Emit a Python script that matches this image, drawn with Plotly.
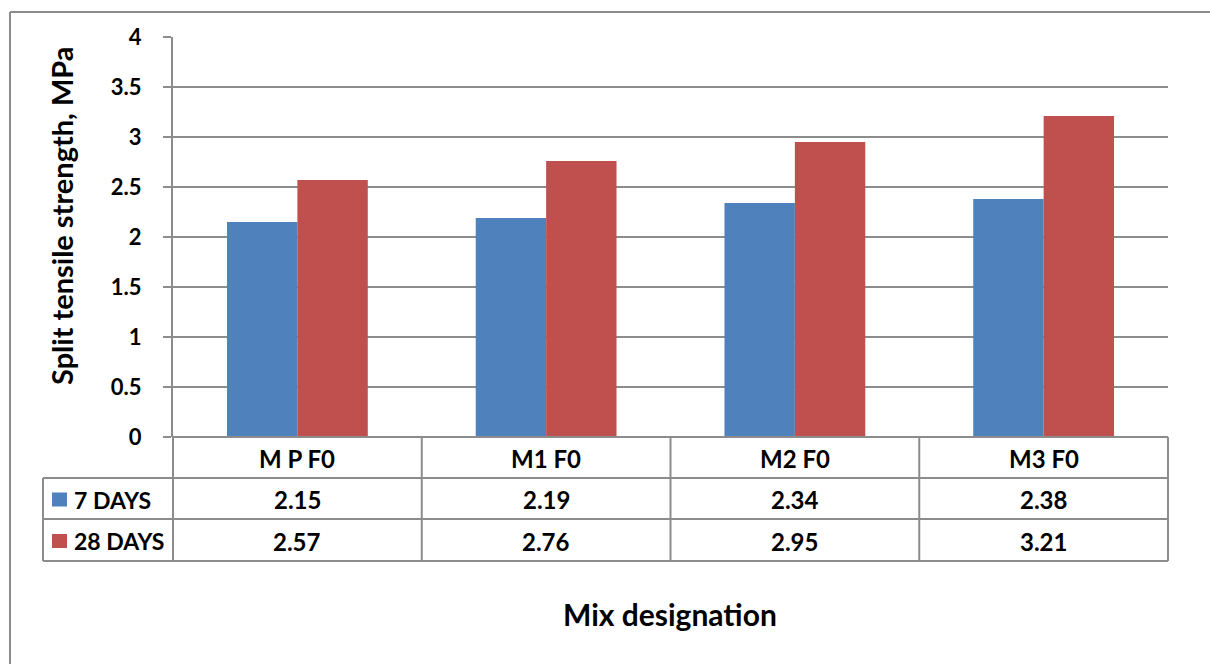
import plotly.graph_objects as go

categories = ["M P F0", "M1 F0", "M2 F0", "M3 F0"]
series_names = ["7 DAYS", "28 DAYS"]
days7 = [2.15, 2.19, 2.34, 2.38]
days28 = [2.57, 2.76, 2.95, 3.21]
colors = ["#4F81BD", "#C0504D"]
y_ticks = [0, 0.5, 1, 1.5, 2, 2.5, 3, 3.5, 4]
y_title = "Split tensile strength, MPa"
x_title = "Mix designation"

W, H = 1210, 664
FONT = "Lato"
GRID = "#8C8C8C"


def px(x):
    return x / W


def py(y):
    return 1 - y / H


x0, x1 = 173, 1168
ytop, ybot = 37, 437
row_y = [437, 478, 519, 561]
tbl_left = 43

fig = go.Figure()
for name, vals, c in zip(series_names, [days7, days28], colors):
    fig.add_trace(go.Bar(x=categories, y=vals, name=name, marker=dict(color=c, line=dict(width=0)),
                         showlegend=False, hoverinfo="skip"))

fig.update_layout(
    width=W, height=H, margin=dict(l=0, r=0, t=0, b=0, autoexpand=False),
    paper_bgcolor="white", plot_bgcolor="white",
    barmode="group", bargap=0.434, bargroupgap=0,
    font=dict(family=FONT, color="black"),
    xaxis=dict(domain=[px(x0), px(x1)], showticklabels=False, showline=False, showgrid=False,
               ticks="", zeroline=False, range=[-0.5, 3.5], automargin=False),
    yaxis=dict(domain=[py(ybot), py(ytop)], range=[0, 4], tickvals=y_ticks,
               ticktext=[f"<b>{v:g}</b>" for v in y_ticks], automargin=False,
               showgrid=True, gridcolor=GRID, gridwidth=1.5, zeroline=False,
               showline=True, linecolor=GRID, linewidth=2,
               ticks="outside", ticklen=8, tickcolor=GRID, tickwidth=1.5,
               tickfont=dict(size=22, family=FONT, color="black"), ticklabelstandoff=17),
)

shapes = []
line = dict(color=GRID, width=2)
# outer chart frame
shapes.append(dict(type="line", xref="paper", yref="paper", x0=px(10), x1=px(10), y0=py(12), y1=0, line=line))
shapes.append(dict(type="line", xref="paper", yref="paper", x0=px(10), x1=1, y0=py(12), y1=py(12), line=line))
# table horizontal lines
shapes.append(dict(type="line", xref="paper", yref="paper", x0=px(x0), x1=px(x1), y0=py(row_y[0]), y1=py(row_y[0]), line=line))
for yy in row_y[1:]:
    shapes.append(dict(type="line", xref="paper", yref="paper", x0=px(tbl_left), x1=px(x1), y0=py(yy), y1=py(yy), line=line))
# table vertical lines
ncat = len(categories)
for i in range(ncat + 1):
    xx = x0 + (x1 - x0) * i / ncat
    shapes.append(dict(type="line", xref="paper", yref="paper", x0=px(xx), x1=px(xx), y0=py(row_y[0]), y1=py(row_y[-1]), line=line))
shapes.append(dict(type="line", xref="paper", yref="paper", x0=px(tbl_left), x1=px(tbl_left), y0=py(row_y[1]), y1=py(row_y[-1]), line=line))

annotations = []
cell_font = dict(size=24, family=FONT, color="black")
cw = (x1 - x0) / ncat
for i, cat in enumerate(categories):
    cx = x0 + cw * (i + 0.5)
    annotations.append(dict(x=px(cx), y=py((row_y[0] + row_y[1]) / 2 + 1), xref="paper", yref="paper",
                            text=f"<b>{cat}</b>", showarrow=False, font=cell_font,
                            xanchor="center", yanchor="middle"))
    for r, vals in enumerate([days7, days28]):
        annotations.append(dict(x=px(cx), y=py((row_y[r + 1] + row_y[r + 2]) / 2 + 1), xref="paper", yref="paper",
                                text=f"<b>{vals[i]:.2f}</b>", showarrow=False, font=cell_font,
                                xanchor="center", yanchor="middle"))
for r, (name, c) in enumerate(zip(series_names, colors)):
    cy = (row_y[r + 1] + row_y[r + 2]) / 2 + 1
    shapes.append(dict(type="rect", xref="paper", yref="paper", x0=px(52), x1=px(67), y0=py(cy - 7), y1=py(cy + 7),
                       fillcolor=c, line=dict(width=0)))
    annotations.append(dict(x=px(72), y=py(cy), xref="paper", yref="paper", xanchor="left", yanchor="middle",
                            text=f"<b>{name}</b>", showarrow=False, font=dict(size=23, family=FONT, color="black")))

annotations.append(dict(x=px(61), y=py(216), xref="paper", yref="paper", text=f"<b>{y_title}</b>", textangle=-90,
                        xanchor="center", yanchor="middle",
                        showarrow=False, font=dict(size=29, family=FONT, color="black")))
annotations.append(dict(x=px(670), y=py(614), xref="paper", yref="paper", text=f"<b>{x_title}</b>",
                        xanchor="center", yanchor="middle",
                        showarrow=False, font=dict(size=30, family=FONT, color="black")))

fig.update_layout(shapes=shapes, annotations=annotations)
fig.write_html("out.html", config={"displayModeBar": False, "staticPlot": True},
               post_script="document.body.style.margin='0';")
